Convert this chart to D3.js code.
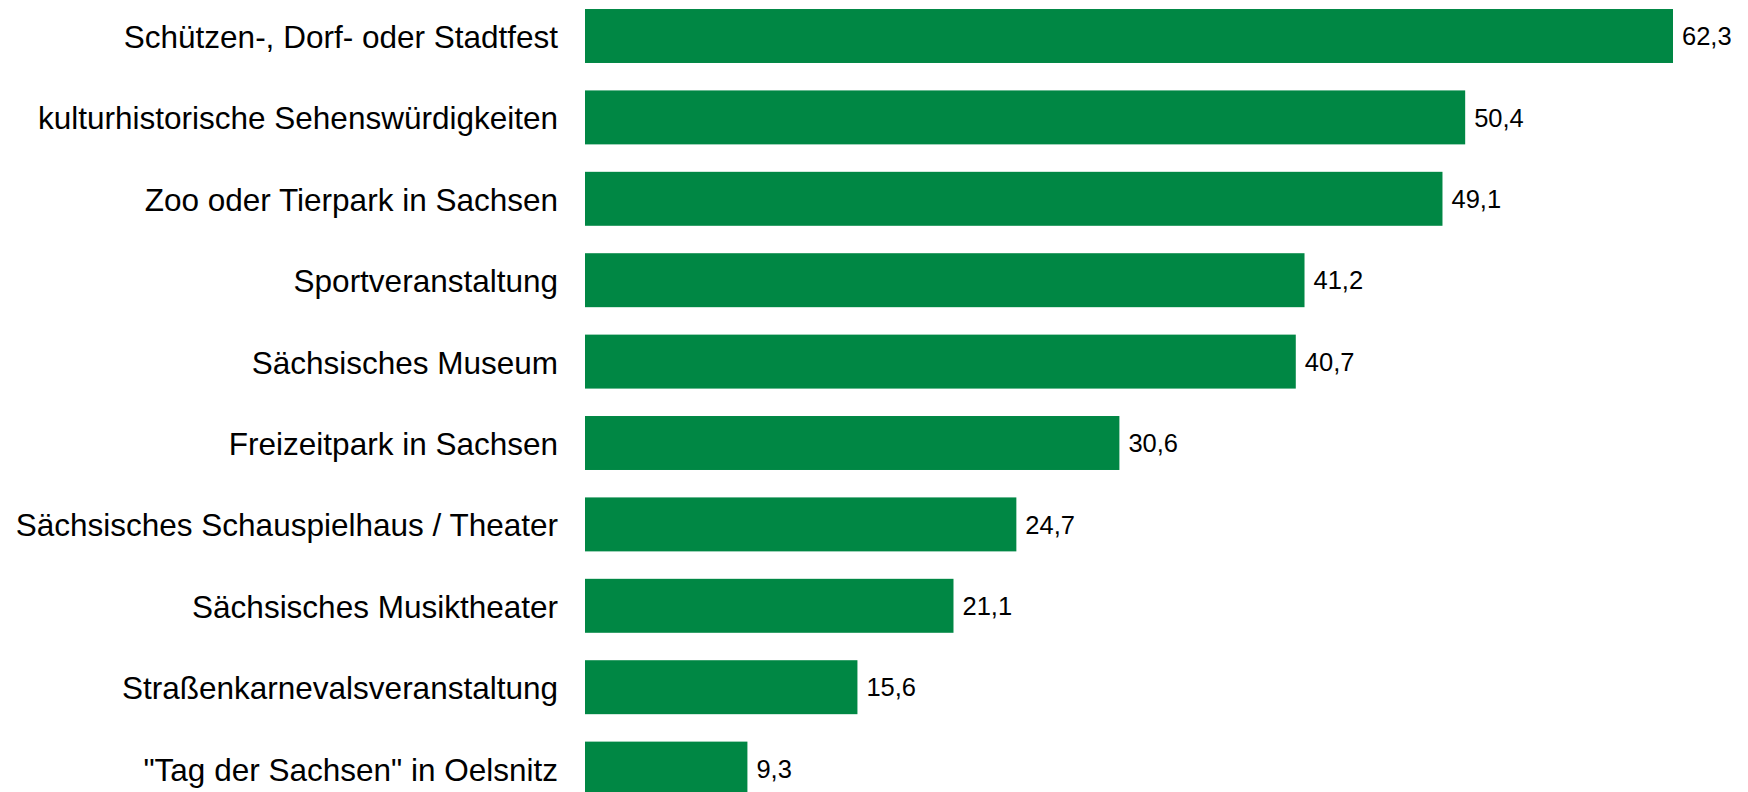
<!DOCTYPE html>
<html>
<head>
<meta charset="utf-8">
<script src="https://cdn.jsdelivr.net/npm/d3@7"></script>
<style>
  body { margin: 0; background: #fff; }
  .label { font-family: "Liberation Sans", Arial, sans-serif; font-size: 31.5px; fill: #000; }
  .value { font-family: "Liberation Sans", Arial, sans-serif; font-size: 25.5px; fill: #000; }
</style>
</head>
<body>
<svg class="chart"></svg>
<script>
//
// data
//

var categories = [
    "Schützen-, Dorf- oder Stadtfest",
    "kulturhistorische Sehenswürdigkeiten",
    "Zoo oder Tierpark in Sachsen",
    "Sportveranstaltung",
    "Sächsisches Museum",
    "Freizeitpark in Sachsen",
    "Sächsisches Schauspielhaus / Theater",
    "Sächsisches Musiktheater",
    "Straßenkarnevalsveranstaltung",
    "\"Tag der Sachsen\" in Oelsnitz"
];
var values = [62.3, 50.4, 49.1, 41.2, 40.7, 30.6, 24.7, 21.1, 15.6, 9.3];

//
// scene
//

var width = 1748,
    height = 792;

var svg = d3.select(".chart")
    .attr("width", width)
    .attr("height", height);

var x = d3.scaleLinear()
    .domain([0, 62.3])
    .range([585, 1673]);

var y = d3.scaleBand()
    .domain(categories)
    .range([-4.7, 809.3])
    .paddingInner(0.337)
    .paddingOuter(0.1685);

var fmt = function (v) { return d3.format(".1f")(v).replace(".", ","); };

var rows = svg.selectAll("g.row")
    .data(categories)
    .enter().append("g")
    .attr("class", "row");

// bars
rows.append("rect")
    .attr("x", x(0))
    .attr("y", function (d) { return y(d); })
    .attr("width", function (d, i) { return x(values[i]) - x(0); })
    .attr("height", y.bandwidth())
    .attr("fill", "#008744");

// category labels
rows.append("text")
    .attr("class", "label")
    .attr("x", x(0) - 27)
    .attr("y", function (d) { return y(d) + y.bandwidth() / 2; })
    .attr("dy", "0.38em")
    .attr("text-anchor", "end")
    .text(function (d) { return d; });

// value labels
rows.append("text")
    .attr("class", "value")
    .attr("x", function (d, i) { return x(values[i]) + 9; })
    .attr("y", function (d) { return y(d) + y.bandwidth() / 2; })
    .attr("dy", "0.36em")
    .text(function (d, i) { return fmt(values[i]); });
</script>
</body>
</html>
